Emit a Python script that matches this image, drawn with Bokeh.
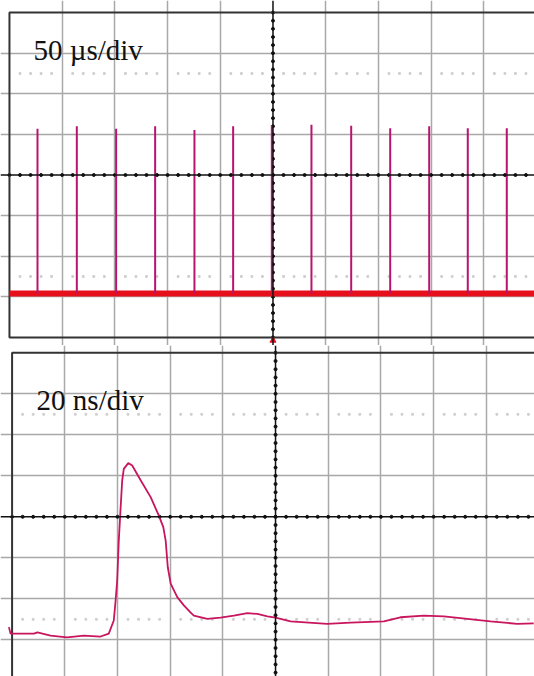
from bokeh.plotting import figure
from bokeh.layouts import column
from bokeh.models import FixedTicker, Span
from bokeh.core.properties import value
from bokeh.embed import file_html
from bokeh.resources import INLINE
import numpy as np

# ---------------- data ----------------
# Top trace: 50 us/div, pulse train (time in us, amplitude in divisions)
spike_times_us = [-223.4, -186.1, -148.8, -111.8, -74.5, -37.8, -1.1,
                  36.5, 74.2, 111.2, 148.2, 184.8, 221.8]
spike_peaks_div = [1.14, 1.20, 1.14, 1.20, 1.11, 1.20, 1.22,
                   1.24, 1.21, 1.15, 1.20, 1.15, 1.15]
baseline_times_us = [-250.0, 250.0]
baseline_level_div = [-2.92, -2.92]

# Bottom trace: 20 ns/div, single pulse (time in ns, amplitude in divisions)
pulse_t_ns = [-101.2, -100.6, -91.7, -90.4, -85.4, -79.1, -72.8, -66.4, -63.3,
              -61.4, -60.7, -60.1, -59.5, -58.8, -58.2, -57.6, -55.9, -54.4,
              -51.2, -47.4, -44.3, -42.6, -41.7, -40.9, -39.8, -37.3, -34.8,
              -32.3, -31.0, -25.9, -20.9, -15.8, -10.7, -6.9, -3.1, 0.0, 5.7,
              19.6, 28.5, 41.1, 47.4, 56.3, 63.9, 72.8, 81.6, 91.7, 98.0]
pulse_v_div = [-2.69, -2.85, -2.85, -2.82, -2.90, -2.94, -2.90, -2.92, -2.85,
               -2.53, -2.04, -1.55, -0.58, 0.23, 0.89, 1.17, 1.31, 1.25,
               0.89, 0.48, 0.03, -0.25, -0.58, -1.23, -1.63, -1.96, -2.16,
               -2.33, -2.41, -2.49, -2.46, -2.41, -2.35, -2.37, -2.43, -2.46, -2.55,
               -2.61, -2.58, -2.55, -2.45, -2.41, -2.43, -2.49, -2.55, -2.61, -2.60]

top_label = "50 µs/div"
bottom_label = "20 ns/div"

W = 534
GRID_COL = "#a8a8a8"
BORDER_COL = "#333333"


def scope_panel(height, xr, yr, xdiv, ydiv, nx=5, ny=4):
    p = figure(width=W, height=height, x_range=xr, y_range=yr,
               output_backend="svg", toolbar_location=None,
               x_axis_location=None, y_axis_location=None,
               min_border=0, outline_line_color=None,
               background_fill_color="white", border_fill_color="white")
    p.xgrid.ticker = FixedTicker(ticks=[k * xdiv for k in range(-nx + 1, nx) if k != 0])
    p.ygrid.ticker = FixedTicker(ticks=[k * ydiv for k in range(-ny + 1, ny) if k != 0])
    for g in (p.xgrid, p.ygrid):
        g.grid_line_color = GRID_COL
        g.grid_line_width = 1.5
    # dotted 10/90 % rows
    xs = np.arange(-nx * 5, nx * 5 + 1) * xdiv / 5
    xs = [x for x in xs if abs(round(x / xdiv * 5)) % 5 != 0]
    for yy in (2.5 * ydiv, -2.5 * ydiv):
        p.scatter(xs, [yy] * len(xs), size=1.8, color="#cfcfcf", marker="square")
    # centre axes
    p.add_layout(Span(location=0, dimension="width", line_color="#111111", line_width=1.5))
    p.add_layout(Span(location=0, dimension="height", line_color="#111111", line_width=1.5))
    tx = np.arange(-nx * 5, nx * 5 + 1) * xdiv / 5
    ty = np.arange(-ny * 5, ny * 5 + 1) * ydiv / 5
    p.scatter(tx, [0] * len(tx), size=3, color="#111111")
    p.scatter([0] * len(ty), ty, size=3, color="#111111")
    # border
    p.quad(left=[-nx * xdiv], right=[nx * xdiv], bottom=[-ny * ydiv], top=[ny * ydiv],
           fill_color=None, line_color=BORDER_COL, line_width=2)
    return p


# top panel: x in us (50 us/div), y in div
p1 = scope_panel(345, (-258.5, 248.1), (-4.200, 4.298), 50.0, 1.0)
p1.line(baseline_times_us, baseline_level_div, line_color="#e5101c", line_width=6)
p1.segment(x0=spike_times_us, y0=baseline_level_div[:1] * len(spike_times_us),
           x1=spike_times_us, y1=spike_peaks_div, line_color="#b8146e", line_width=2)
p1.scatter([0], [-4.076], marker="triangle", size=6, color="#e5101c")
p1.text([-227.2], [3.067], text=[top_label], text_font=value("Liberation Serif"),
        text_font_size="29px", text_color="#111111", text_baseline="alphabetic")

# bottom panel: x in ns (20 ns/div), y in div
p2 = scope_panel(331, (-104.4, 98.3), (-3.895, 4.178), 20.0, 1.0)
p2.line(pulse_t_ns, pulse_v_div, line_color="#c8155e", line_width=1.8)
p2.text([-90.7], [2.837], text=[bottom_label], text_font=value("Liberation Serif"),
        text_font_size="29px", text_color="#111111", text_baseline="alphabetic")

layout = column(p1, p2, spacing=0)
open("out.html", "w").write(file_html(layout, INLINE))
